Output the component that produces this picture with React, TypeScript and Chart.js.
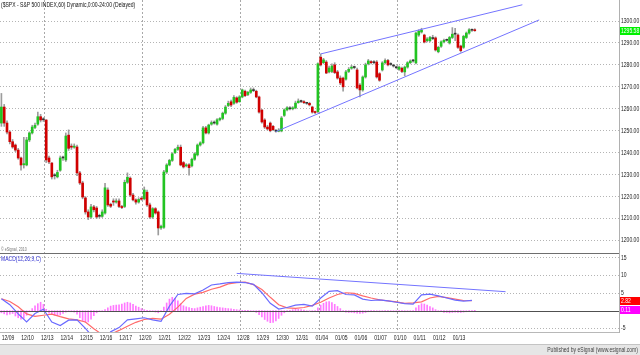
import React, { useEffect, useRef } from 'react';
import { Chart, registerables } from 'chart.js';

Chart.register(...registerables);

const FONT = "'Liberation Sans', Arial, sans-serif";
const TEXT_SCALE = 0.72;

const chartTitle = '($SPX - S&P 500 INDEX,60) Dynamic,0:00-24:00 (Delayed)';
const macdTitle = 'MACD(12,26,9,C)';
const copyright = '\u00A9 eSignal, 2010';
const publisher = 'Published by eSignal (www.esignal.com)';

const dayLabels = ['12/09', '12/10', '12/13', '12/14', '12/15', '12/16', '12/17', '12/20', '12/21', '12/22', '12/23', '12/24',
  '12/28', '12/29', '12/30', '12/31', '01/04', '01/05', '01/06', '01/07', '01/10', '01/11', '01/12', '01/13'];
const weekStartDays = ['12/13', '12/20', '12/28', '01/04', '01/10'];
const LEAD_BARS = 2;
const BARS_PER_DAY = 7;
const EMPTY_SLOTS = 51;

const opens = [
  1253.5, 1260.8, 1253.5, 1249.4, 1245.0, 1243.5, 1241.2, 1237.6, 1234.5, 1234.4,
  1245.8, 1249.0, 1251.5, 1253.0, 1256.4, 1255.0, 1254.9, 1237.6, 1235.3, 1229.5,
  1229.0, 1232.0, 1237.6, 1236.7, 1248.0, 1243.0, 1242.5, 1242.6, 1230.8, 1226.2,
  1219.4, 1213.0, 1210.7, 1215.3, 1214.8, 1211.0, 1211.0, 1212.5, 1223.0, 1216.5,
  1218.0, 1217.5, 1218.0, 1215.5, 1215.5, 1226.5, 1228.4, 1220.7, 1218.5, 1217.5,
  1219.2, 1219.0, 1222.0, 1216.2, 1210.7, 1214.5, 1213.0, 1205.7, 1206.0, 1231.2,
  1234.4, 1236.5, 1240.0, 1241.5, 1242.5, 1235.5, 1234.0, 1234.5, 1234.0, 1237.0,
  1239.0, 1243.5, 1244.5, 1251.3, 1249.0, 1253.0, 1253.7, 1253.0, 1255.0, 1255.6,
  1258.0, 1261.5, 1263.2, 1262.5, 1265.0, 1263.2, 1265.4, 1268.0, 1266.5, 1267.5,
  1268.6, 1268.0, 1265.4, 1259.4, 1254.9, 1251.7, 1253.5, 1252.0, 1250.0, 1249.8,
  1249.9, 1257.0, 1259.5, 1260.3, 1260.0, 1260.4, 1262.8, 1263.3, 1263.2, 1262.5,
  1262.5, 1260.8, 1258.7, 1258.7, 1283.5, 1281.0, 1281.3, 1276.8, 1277.0, 1280.0,
  1276.8, 1274.0, 1274.0, 1273.5, 1277.0, 1278.5, 1279.0, 1277.7, 1270.8, 1268.6,
  1274.5, 1280.5, 1281.5, 1281.0, 1281.3, 1276.0, 1277.7, 1281.0, 1282.0, 1280.5,
  1279.8, 1279.0, 1278.0, 1278.5, 1276.8, 1279.0, 1281.0, 1281.8, 1280.9, 1293.6,
  1295.0, 1293.6, 1291.0, 1291.0, 1292.3, 1292.3, 1286.0, 1288.5, 1290.5, 1291.2,
  1290.0, 1292.5, 1294.0, 1293.6, 1288.6, 1288.0, 1292.5, 1294.5, 1295.8, 1296.0,
];
const closes = [
  1260.8, 1253.5, 1249.4, 1245.0, 1242.6, 1241.2, 1237.6, 1234.4, 1235.0, 1245.8,
  1249.0, 1251.7, 1252.5, 1256.4, 1254.9, 1255.2, 1236.7, 1235.8, 1229.0, 1229.5,
  1231.0, 1237.6, 1237.8, 1247.6, 1242.0, 1242.5, 1243.0, 1230.8, 1226.2, 1219.8,
  1213.0, 1210.7, 1215.3, 1214.0, 1210.7, 1211.2, 1213.0, 1224.0, 1216.2, 1215.6,
  1217.5, 1218.0, 1215.5, 1215.0, 1226.5, 1228.8, 1220.7, 1218.5, 1217.5, 1218.7,
  1218.8, 1223.0, 1216.2, 1210.7, 1214.5, 1212.5, 1205.7, 1206.5, 1231.2, 1234.4,
  1236.5, 1239.5, 1241.5, 1242.5, 1234.4, 1233.5, 1234.4, 1233.2, 1237.0, 1239.5,
  1243.5, 1244.5, 1251.3, 1249.0, 1252.6, 1253.7, 1253.5, 1255.0, 1255.6, 1258.0,
  1260.8, 1262.5, 1261.7, 1265.2, 1263.0, 1265.4, 1268.6, 1266.0, 1267.5, 1268.6,
  1268.3, 1265.4, 1258.5, 1254.0, 1251.7, 1250.8, 1250.0, 1250.5, 1249.8, 1250.2,
  1255.8, 1259.5, 1260.5, 1260.0, 1260.4, 1262.6, 1263.5, 1263.3, 1262.8, 1262.5,
  1261.8, 1258.5, 1258.3, 1280.5, 1280.0, 1282.3, 1276.3, 1278.6, 1279.5, 1276.5,
  1274.0, 1271.8, 1270.0, 1276.8, 1278.0, 1279.0, 1278.8, 1269.5, 1268.6, 1274.5,
  1280.0, 1281.8, 1281.0, 1281.3, 1274.5, 1273.0, 1280.9, 1282.0, 1280.0, 1280.2,
  1279.5, 1278.7, 1279.0, 1277.0, 1279.0, 1281.0, 1281.8, 1282.0, 1294.5, 1295.4,
  1295.8, 1290.4, 1291.8, 1292.5, 1292.0, 1286.8, 1288.0, 1290.5, 1291.2, 1291.3,
  1292.5, 1294.0, 1294.2, 1288.0, 1286.5, 1293.0, 1294.5, 1296.0, 1295.8, 1295.58,
];
const highs = [
  1267.0, 1262.0, 1254.5, 1250.0, 1246.0, 1244.0, 1242.0, 1238.0, 1247.0, 1247.0,
  1249.5, 1252.5, 1253.5, 1258.5, 1257.5, 1256.0, 1255.0, 1238.5, 1235.5, 1230.5,
  1232.0, 1238.5, 1238.5, 1249.0, 1250.4, 1244.0, 1244.0, 1243.5, 1231.5, 1227.0,
  1220.0, 1214.0, 1216.5, 1216.0, 1215.5, 1212.0, 1214.0, 1226.0, 1224.0, 1217.0,
  1219.0, 1219.0, 1219.0, 1216.0, 1227.5, 1230.8, 1229.0, 1221.5, 1219.0, 1219.5,
  1219.8, 1224.4, 1223.0, 1217.0, 1215.0, 1215.0, 1213.5, 1207.0, 1232.0, 1235.0,
  1237.0, 1240.0, 1242.0, 1243.5, 1243.5, 1236.0, 1235.0, 1235.0, 1237.5, 1240.0,
  1244.0, 1245.0, 1252.0, 1252.0, 1253.0, 1254.5, 1254.5, 1255.5, 1256.0, 1258.5,
  1261.5, 1263.5, 1264.0, 1266.0, 1265.5, 1266.0, 1269.0, 1268.5, 1268.0, 1269.5,
  1269.5, 1268.5, 1265.8, 1259.8, 1255.5, 1252.5, 1254.0, 1252.5, 1250.5, 1251.0,
  1256.5, 1260.0, 1261.0, 1261.0, 1261.0, 1263.5, 1264.5, 1264.0, 1263.8, 1263.0,
  1263.0, 1261.2, 1259.0, 1281.0, 1285.0, 1283.0, 1282.0, 1279.5, 1280.5, 1281.0,
  1277.5, 1275.0, 1274.5, 1277.5, 1278.8, 1279.8, 1279.5, 1278.5, 1271.5, 1275.0,
  1280.8, 1282.5, 1282.0, 1282.0, 1282.0, 1276.5, 1281.5, 1282.8, 1282.5, 1281.0,
  1280.2, 1279.5, 1279.5, 1279.0, 1279.5, 1281.5, 1282.3, 1282.5, 1295.0, 1296.0,
  1296.7, 1294.0, 1292.5, 1293.0, 1293.5, 1292.8, 1288.5, 1291.0, 1291.8, 1291.8,
  1293.0, 1297.0, 1296.7, 1294.2, 1289.0, 1293.5, 1295.0, 1296.5, 1296.3, 1296.5,
];
const lows = [
  1252.0, 1252.0, 1248.5, 1244.0, 1242.0, 1240.5, 1237.0, 1232.0, 1233.0, 1234.0,
  1245.0, 1248.5, 1251.0, 1252.5, 1254.0, 1254.2, 1235.5, 1235.0, 1228.0, 1228.0,
  1228.5, 1231.5, 1236.5, 1236.0, 1241.0, 1241.5, 1242.0, 1229.5, 1225.5, 1219.0,
  1212.0, 1209.5, 1210.0, 1213.0, 1210.0, 1210.2, 1210.5, 1212.0, 1215.5, 1215.0,
  1216.0, 1217.0, 1215.0, 1214.5, 1215.0, 1226.0, 1220.0, 1218.0, 1216.5, 1217.0,
  1218.3, 1218.5, 1215.5, 1210.0, 1210.0, 1212.0, 1202.5, 1205.0, 1205.5, 1230.5,
  1234.0, 1236.0, 1239.5, 1241.0, 1234.0, 1233.0, 1233.5, 1229.8, 1233.5, 1236.5,
  1238.5, 1243.0, 1244.0, 1248.5, 1248.5, 1252.5, 1253.0, 1252.5, 1254.5, 1255.0,
  1257.5, 1261.0, 1261.0, 1262.0, 1262.5, 1263.0, 1265.0, 1265.5, 1266.0, 1267.0,
  1267.8, 1265.0, 1258.0, 1253.5, 1251.0, 1250.3, 1249.5, 1250.0, 1249.3, 1249.5,
  1249.5, 1256.5, 1259.0, 1259.5, 1259.5, 1260.0, 1262.5, 1262.8, 1262.3, 1262.0,
  1261.3, 1258.0, 1257.8, 1258.2, 1279.5, 1280.5, 1276.0, 1276.3, 1276.5, 1276.0,
  1273.5, 1271.0, 1268.0, 1273.0, 1276.5, 1278.0, 1278.2, 1269.0, 1265.4, 1268.0,
  1274.0, 1280.0, 1280.5, 1280.5, 1274.0, 1272.5, 1277.2, 1280.5, 1279.5, 1279.8,
  1279.0, 1278.2, 1277.5, 1276.5, 1275.0, 1278.5, 1280.5, 1281.3, 1280.5, 1293.0,
  1294.5, 1290.0, 1290.5, 1290.5, 1291.5, 1286.3, 1285.5, 1288.0, 1290.0, 1290.8,
  1289.5, 1292.0, 1291.0, 1287.5, 1285.8, 1287.5, 1292.0, 1294.0, 1295.3, 1295.3,
];

// MACD readings, one every MACD_STEP bars
const MACD_STEP = 3;
const macdLine = [
  3.4, 1.7, -0.9, -3.2, -0.8, 0.4, -3.2, -4.2, -2.7, -2.6,
  -5.0, -7.8, -9.0, -6.0, -4.8, -2.6, -2.3, -2.0, -2.6, -3.0,
  1.3, 4.6, 4.9, 4.8, 5.9, 7.3, 7.6, 8.0, 8.1, 8.0,
  7.5, 5.1, 2.1, 0.45, 0.9, 1.6, 1.8, 1.3, 3.6, 5.5,
  5.7, 4.6, 4.5, 3.3, 2.9, 3.05, 2.8, 2.4, 2.0, 1.85,
  4.5, 4.7, 4.2, 3.6, 3.0, 2.7, 2.93,
];
const signalLine = [
  3.4, 2.6, 1.1, -0.9, -1.6, -1.3, -1.0, -1.7, -2.3, -2.6,
  -3.2, -5.1, -6.8, -6.7, -5.6, -4.4, -3.3, -2.5, -2.2, -2.4,
  -1.0, 1.0, 3.5, 4.7, 5.2, 6.1, 6.7, 7.6, 8.0, 8.1,
  7.4, 6.0, 3.8, 1.7, 0.8, 0.65, 0.9, 1.5, 2.4, 3.6,
  4.6, 5.1, 4.9, 4.2, 3.6, 3.1, 2.8, 2.5, 2.1, 2.2,
  2.5, 3.6, 4.05, 3.7, 3.3, 2.9, 2.82,
];
const histogram = [
  -0.6, -0.9, -1.2, -1.0, -0.8, -1.5, -2.0, -2.4, -2.2, -1.3,
  -0.3, 0.6, 1.4, 2.0, 2.4, 1.8, 0.4, -0.7, -1.1, -1.3,
  -1.4, -1.2, -0.8, -0.4, -0.2, -0.3, -0.4, -1.0, -2.0, -2.8,
  -3.3, -3.2, -2.4, -1.4, -0.6, -0.2, 0.0, 0.3, 0.8, 1.3,
  1.5, 1.6, 1.7, 1.9, 2.2, 2.4, 2.2, 1.8, 1.3, 1.0,
  0.6, 0.3, 0.1, -0.1, -0.2, -0.4, -0.6, -0.3, 1.0, 2.2,
  3.3, 3.8, 3.5, 2.8, 2.0, 1.4, 1.1, 0.9, 0.7, 0.6,
  0.8, 1.0, 1.2, 1.4, 1.5, 1.4, 1.2, 1.0, 0.9, 0.8,
  0.7, 0.6, 0.5, 0.4, 0.3, 0.2, 0.1, 0.1, 0.1, 0.0,
  -0.1, -0.5, -1.1, -1.8, -2.5, -3.0, -3.4, -3.3, -2.9, -2.2,
  -1.3, -0.6, -0.2, 0.1, 0.3, 0.4, 0.4, 0.3, 0.2, 0.0,
  -0.2, -0.3, -0.1, 0.8, 1.6, 2.1, 2.5, 2.6, 2.3, 1.8,
  1.2, 0.6, 0.0, -0.4, -0.5, -0.5, -0.6, -0.7, -0.8, -0.7,
  -0.5, -0.3, -0.1, 0.0, -0.2, -0.3, -0.2, -0.1, 0.0, -0.2,
  -0.3, -0.3, -0.2, -0.2, -0.3, -0.2, -0.1, 0.0, 0.8, 1.5,
  2.0, 1.9, 1.6, 1.2, 0.8, 0.3, -0.1, -0.3, -0.5, -0.5,
  -0.6, -0.5, -0.4, -0.5, -0.5, -0.4, -0.3, -0.2, -0.1, 0.11,
];

// Trend lines: [bar index, value]
const upperChannel: [number, number][] = [[114, 1285.0], [186, 1307.4]];
const lowerChannel: [number, number][] = [[98, 1249.6], [192, 1300.5]];
const macdTrend: [number, number][] = [[84, 10.6], [180, 5.4]];

const priceTicks = [1200, 1210, 1220, 1230, 1240, 1250, 1260, 1270, 1280, 1290, 1300];
const macdTicks = [15, 10, 5, -5];
const PRICE_MIN = 1194.3;
const PRICE_MAX = 1309.57;
const MACD_MIN = -6.05;
const MACD_MAX = 16.39;

export default function App() {
  const ref = useRef<HTMLCanvasElement>(null);

  useEffect(() => {
    const canvas = ref.current;
    if (!canvas) return;
    const totalSlots = LEAD_BARS + dayLabels.length * BARS_PER_DAY + EMPTY_SLOTS;
    const slotLabels: string[] = Array.from({ length: totalSlots }, () => '');
    dayLabels.forEach((d, k) => { slotLabels[LEAD_BARS + k * BARS_PER_DAY] = d; });
    const weekSlots = weekStartDays.map((d) => LEAD_BARS + dayLabels.indexOf(d) * BARS_PER_DAY);

    const wickData = highs.map((h, i) => [lows[i], h]);
    const bodyData = opens.map((o, i) => [Math.min(o, closes[i]), Math.max(o, closes[i])]);
    const bodyColors = opens.map((o, i) => {
      const c = closes[i];
      if (Math.abs(c - o) < 0.35) return '#333333';
      return c > o ? '#22c422' : '#d00000';
    });
    const sparse = (vals: number[]) => {
      const arr: (number | null)[] = Array(totalSlots).fill(null);
      vals.forEach((v, k) => { arr[k * MACD_STEP] = v; });
      return arr;
    };
    const trend = (pts: [number, number][]) => {
      const arr: (number | null)[] = Array(totalSlots).fill(null);
      pts.forEach(([i, v]) => { arr[i] = v; });
      return arr;
    };

    const drawText = (ctx: CanvasRenderingContext2D, text: string, x: number, y: number,
      align: CanvasTextAlign, size: number, color: string) => {
      ctx.save();
      ctx.translate(x, y);
      ctx.scale(TEXT_SCALE, 1);
      ctx.font = `${size}px ${FONT}`;
      ctx.fillStyle = color;
      ctx.textAlign = align;
      ctx.textBaseline = 'middle';
      ctx.fillText(text, 0, 0);
      ctx.restore();
    };

    const extras = {
      id: 'extras',
      afterDatasetsDraw(chart: any) {
        const { ctx, chartArea, scales } = chart;
        ctx.save();
        const sepY = Math.round(scales.y.bottom) + 0.5;
        ctx.strokeStyle = '#6e6e6e';
        ctx.lineWidth = 1;
        ctx.beginPath();
        ctx.moveTo(chartArea.left, sepY);
        ctx.lineTo(chartArea.right, sepY);
        ctx.stroke();
        const zy = Math.round(scales.m.getPixelForValue(0)) + 0.5;
        ctx.strokeStyle = '#505050';
        ctx.beginPath();
        ctx.moveTo(chartArea.left, zy);
        ctx.lineTo(chartArea.right, zy);
        ctx.stroke();
        ctx.restore();
      },
      afterDraw(chart: any) {
        const { ctx, scales, chartArea } = chart;
        ctx.save();
        // axis labels
        const lx = chartArea.right + 2;
        priceTicks.forEach((v) => drawText(ctx, v.toFixed(2), lx, scales.y.getPixelForValue(v), 'left', 7, '#1a1a1a'));
        macdTicks.forEach((v) => drawText(ctx, String(v), lx, scales.m.getPixelForValue(v), 'left', 7, '#1a1a1a'));
        slotLabels.forEach((l, i) => {
          if (l) drawText(ctx, l, scales.x.getPixelForValue(i) + 1, 338.5, 'center', 7, '#1a1a1a');
        });

        // bottom strip
        ctx.fillStyle = '#e6e6e6';
        ctx.fillRect(0, 345, 640, 10);
        ctx.strokeStyle = '#c4c4c4';
        ctx.lineWidth = 1;
        ctx.beginPath();
        ctx.moveTo(0, 344.5);
        ctx.lineTo(640, 344.5);
        ctx.stroke();
        drawText(ctx, publisher, 638, 350.5, 'right', 7, '#444');

        drawText(ctx, chartTitle, 1, 5, 'left', 7, '#111');
        drawText(ctx, copyright, 1, 249.5, 'left', 5, '#777');
        drawText(ctx, macdTitle, 1, 259, 'left', 7, '#3030d0');

        // value boxes on the right axis
        const box = (y: number, bg: string, text: string) => {
          const yy = Math.round(y);
          ctx.fillStyle = bg;
          ctx.fillRect(chartArea.right + 1, yy - 4, 640 - chartArea.right - 1, 8);
          drawText(ctx, text, lx, yy + 0.5, 'left', 7, '#ffffff');
        };
        const lastClose = closes[closes.length - 1];
        box(scales.y.getPixelForValue(lastClose), '#00f000', lastClose.toFixed(2));
        const lastSig = signalLine[signalLine.length - 1];
        box(scales.m.getPixelForValue(lastSig), '#ff0000', lastSig.toFixed(2));
        const lastHist = histogram[histogram.length - 1];
        box(scales.m.getPixelForValue(lastHist), '#ff00ff', lastHist.toFixed(2));
        ctx.restore();
      },
    };

    const chart = new Chart(canvas, {
      type: 'bar',
      data: {
        labels: slotLabels,
        datasets: [
          {
            type: 'bar', yAxisID: 'y', data: wickData as any, backgroundColor: '#9c9c9c',
            barThickness: 1, grouped: false, order: 5, borderWidth: 0,
          },
          {
            type: 'bar', yAxisID: 'y', data: bodyData as any, backgroundColor: bodyColors,
            barThickness: 2, grouped: false, order: 4, borderWidth: 0, minBarLength: 1,
          },
          {
            type: 'bar', yAxisID: 'm', data: histogram, backgroundColor: '#ff78ff',
            barThickness: 1, grouped: false, order: 6, borderWidth: 0,
          },
          {
            type: 'line', yAxisID: 'm', data: sparse(macdLine), borderColor: '#6a6aff',
            borderWidth: 1.2, pointRadius: 0, spanGaps: true, tension: 0, order: 2,
          },
          {
            type: 'line', yAxisID: 'm', data: sparse(signalLine), borderColor: '#ff6a6a',
            borderWidth: 1.2, pointRadius: 0, spanGaps: true, tension: 0, order: 3,
          },
          {
            type: 'line', yAxisID: 'y', data: trend(upperChannel), borderColor: '#7474ff',
            borderWidth: 1, pointRadius: 0, spanGaps: true, order: 1,
          },
          {
            type: 'line', yAxisID: 'y', data: trend(lowerChannel), borderColor: '#7474ff',
            borderWidth: 1, pointRadius: 0, spanGaps: true, order: 1,
          },
          {
            type: 'line', yAxisID: 'm', data: trend(macdTrend), borderColor: '#7474ff',
            borderWidth: 1, pointRadius: 0, spanGaps: true, order: 1,
          },
        ] as any,
      },
      options: {
        responsive: false,
        animation: false,
        devicePixelRatio: 1,
        events: [],
        layout: { padding: 0 },
        plugins: { legend: { display: false }, tooltip: { enabled: false }, title: { display: false } },
        scales: {
          x: {
            type: 'category',
            offset: true,
            grid: {
              offset: true,
              drawTicks: false,
              lineWidth: 1,
              color: (c: any) => (weekSlots.includes(c.index) ? '#a8a8a8' : 'rgba(0,0,0,0)'),
            },
            border: { display: true, color: '#b8b8b8', dash: [2, 2] },
            ticks: { display: false, autoSkip: false, maxRotation: 0, minRotation: 0 },
            afterFit: (s: any) => { s.height = 23; s.paddingLeft = 0; s.paddingRight = 0; },
          },
          y: {
            type: 'linear', position: 'right', stack: 'panes', stackWeight: 253,
            min: PRICE_MIN, max: PRICE_MAX,
            afterBuildTicks: (s: any) => { s.ticks = priceTicks.map((v) => ({ value: v })); },
            grid: { color: '#b4b4b4', drawTicks: false, lineWidth: 1 },
            border: { display: true, color: '#b0b0b0', dash: [1, 2] },
            ticks: { display: false },
            afterFit: (s: any) => { s.width = 21; s.paddingTop = 0; s.paddingBottom = 0; },
          },
          m: {
            type: 'linear', position: 'right', stack: 'panes', stackWeight: 79,
            min: MACD_MIN, max: MACD_MAX,
            afterBuildTicks: (s: any) => { s.ticks = macdTicks.map((v) => ({ value: v })); },
            grid: { color: '#b4b4b4', drawTicks: false, lineWidth: 1 },
            border: { display: true, color: '#b0b0b0', dash: [1, 2] },
            ticks: { display: false },
            afterFit: (s: any) => { s.width = 21; s.paddingTop = 0; s.paddingBottom = 0; },
          },
        } as any,
      },
      plugins: [extras],
    });
    return () => chart.destroy();
  }, []);

  return (
    <div style={{ position: 'absolute', left: 0, top: 0, width: 640, height: 355, background: '#ffffff' }}>
      <canvas ref={ref} width={640} height={355} style={{ display: 'block', width: 640, height: 355 }} />
    </div>
  );
}
